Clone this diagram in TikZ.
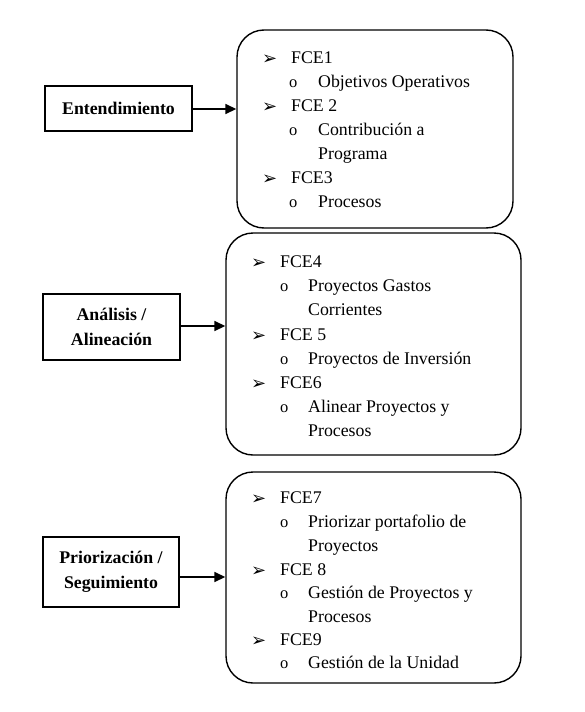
\documentclass[tikz,border=0pt]{standalone}
\usepackage{fontspec}
\setmainfont{Liberation Serif}
\newfontfamily\symfont{DejaVu Sans}
\usetikzlibrary{arrows.meta}
\tikzset{
  big/.style={draw, line width=1.4pt, rounded corners=27pt, inner sep=0pt},
  lab/.style={draw, line width=1.4pt, inner sep=0pt, align=center, font=\bfseries\fontsize{17.8pt}{25pt}\selectfont},
  arr/.style={line width=1.6pt, -{Triangle[length=11pt,width=10pt]}},
  txt/.style={anchor=base west, inner sep=0pt, font=\fontsize{17.8pt}{24pt}\selectfont},
  sub/.style={anchor=base west, inner sep=0pt, font=\fontsize{16.5pt}{24pt}\selectfont},
  bul/.style={anchor=base west, inner sep=0pt, font=\symfont\fontsize{18pt}{20pt}\selectfont},
}
\begin{document}
\begin{tikzpicture}[x=1pt,y=-1pt]
\useasboundingbox (0,0) rectangle (584,712);
% big rounded boxes
\node[big, minimum width=276pt, minimum height=198pt] (B1) at (375,129) {};
\node[big, minimum width=295pt, minimum height=222pt] (B2) at (373.5,344) {};
\node[big, minimum width=295pt, minimum height=211pt] (B3) at (373.5,577.5) {};
% left labels
\node[lab, minimum width=147pt, minimum height=45pt] (L1) at (118.5,108.5) {Entendimiento};
\node[lab, minimum width=137pt, minimum height=66pt] (L2) at (111.5,327) {Análisis /\\Alineación};
\node[lab, minimum width=136pt, minimum height=70pt] (L3) at (111,572) {Priorización /\\Seguimiento};
% arrows
\coordinate (y1) at (0,109);
\coordinate (y2) at (0,326);
\coordinate (y3) at (0,577);
\draw[arr] (L1.east |- y1) -- (B1.west |- y1);
\draw[arr] (L2.east |- y2) -- (B2.west |- y2);
\draw[arr] (L3.east |- y3) -- (B3.west |- y3);
% box 1 text
\node[bul] (b11) at (262,64) {➢};
\node[txt] (t11) at (291,63) {FCE1};
\node[sub] (o11) at (289,87) {o};
\node[txt] (t12) at (318,87) {Objetivos Operativos};
\node[bul] (b12) at (262,112) {➢};
\node[txt] (t13) at (291,111) {FCE 2};
\node[sub] (o12) at (289,135) {o};
\node[txt] (t14) at (318,135) {Contribución a};
\node[txt] (t15) at (318,159) {Programa};
\node[bul] (b13) at (262,184) {➢};
\node[txt] (t16) at (291,183) {FCE3};
\node[sub] (o13) at (289,207) {o};
\node[txt] (t17) at (318,207) {Procesos};
% box 2 text
\node[bul] (b21) at (251,268) {➢};
\node[txt] (t21) at (280,267) {FCE4};
\node[sub] (o21) at (280,291) {o};
\node[txt] (t22) at (308,291) {Proyectos Gastos};
\node[txt] (t23) at (308,315) {Corrientes};
\node[bul] (b22) at (251,341) {➢};
\node[txt] (t24) at (280,340) {FCE 5};
\node[sub] (o22) at (280,364) {o};
\node[txt] (t25) at (308,364) {Proyectos de Inversión};
\node[bul] (b23) at (251,389) {➢};
\node[txt] (t26) at (280,388) {FCE6};
\node[sub] (o23) at (280,412) {o};
\node[txt] (t27) at (308,412) {Alinear Proyectos y};
\node[txt] (t28) at (308,436) {Procesos};
% box 3 text
\node[bul] (b31) at (251,504) {➢};
\node[txt] (t31) at (280,503) {FCE7};
\node[sub] (o31) at (280,527) {o};
\node[txt] (t32) at (308,527) {Priorizar portafolio de};
\node[txt] (t33) at (308,551) {Proyectos};
\node[bul] (b32) at (251,576) {➢};
\node[txt] (t34) at (280,575) {FCE 8};
\node[sub] (o32) at (280,598) {o};
\node[txt] (t35) at (308,598) {Gestión de Proyectos y};
\node[txt] (t36) at (308,622) {Procesos};
\node[bul] (b33) at (251,646) {➢};
\node[txt] (t37) at (280,645) {FCE9};
\node[sub] (o33) at (280,668) {o};
\node[txt] (t38) at (308,668) {Gestión de la Unidad};
\end{tikzpicture}
\end{document}
